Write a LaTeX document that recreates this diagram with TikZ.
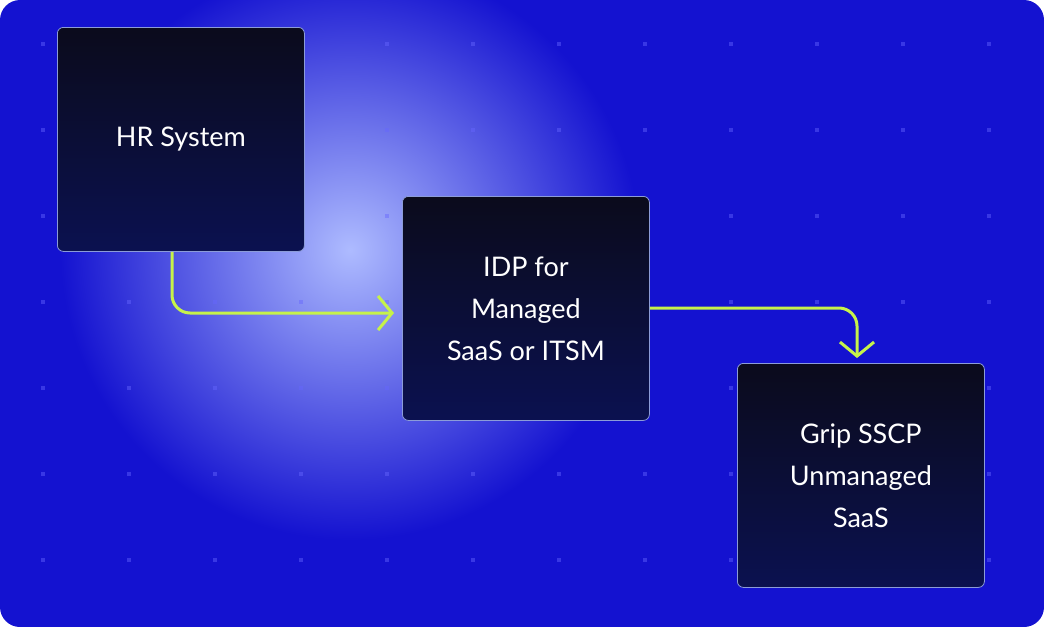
\documentclass[tikz,border=0pt]{standalone}
\usepackage{fontspec}
\setmainfont{Lato}
\usetikzlibrary{arrows.meta}
\definecolor{bgblue}{HTML}{1412D0}
\definecolor{glow}{HTML}{AEBBFF}
\definecolor{lime}{HTML}{C6F24A}
\definecolor{boxA}{HTML}{0B0B1C}
\definecolor{boxB}{HTML}{0B1150}
\definecolor{edge}{HTML}{8C9CD8}
\tikzset{
  card/.style={draw=edge, line width=0.8pt, rounded corners=6pt, top color=boxA, bottom color=boxB, minimum width=247pt, minimum height=224pt, anchor=north west, text=white, align=center, font=\fontsize{27}{42}\selectfont},
  flow/.style={draw=lime, line width=3pt, rounded corners=18pt, -{Straight Barb[length=14pt,width=34pt,line width=3pt]}}
}
\begin{document}
\begin{tikzpicture}[x=1pt,y=-1pt]
\useasboundingbox (0,0) rectangle (1044,627);
\begin{scope}
\clip[rounded corners=20pt] (0,0) rectangle (1044,627);
\fill[bgblue] (0,0) rectangle (1044,627);
\shade[inner color=glow, outer color=bgblue] (350,250) circle (290);
\foreach \x in {43,129,...,1044} \foreach \y in {44,130,216,302,388,474,560}
  \fill[blue!60!white, opacity=0.45] (\x-2,\y-2) rectangle (\x+2,\y+2);
\end{scope}
\node[card] (hr) at (57,27) {HR System};
\node[card] (idp) at (402,196) {IDP for\\Managed\\SaaS or ITSM};
\node[card] (grip) at (737,363) {Grip SSCP\\Unmanaged\\SaaS};
\coordinate (a1) at (hr.south -| 172,0);
\coordinate (a2) at (172,313);
\coordinate (a3) at (394,313);
\draw[flow] (a1) -- (a2) -- (a3);
\coordinate (b1) at (idp.east |- 0,308);
\coordinate (b2) at (857,308);
\coordinate (b3) at (857,358);
\draw[flow] (b1) -- (b2) -- (b3);
\end{tikzpicture}
\end{document}
